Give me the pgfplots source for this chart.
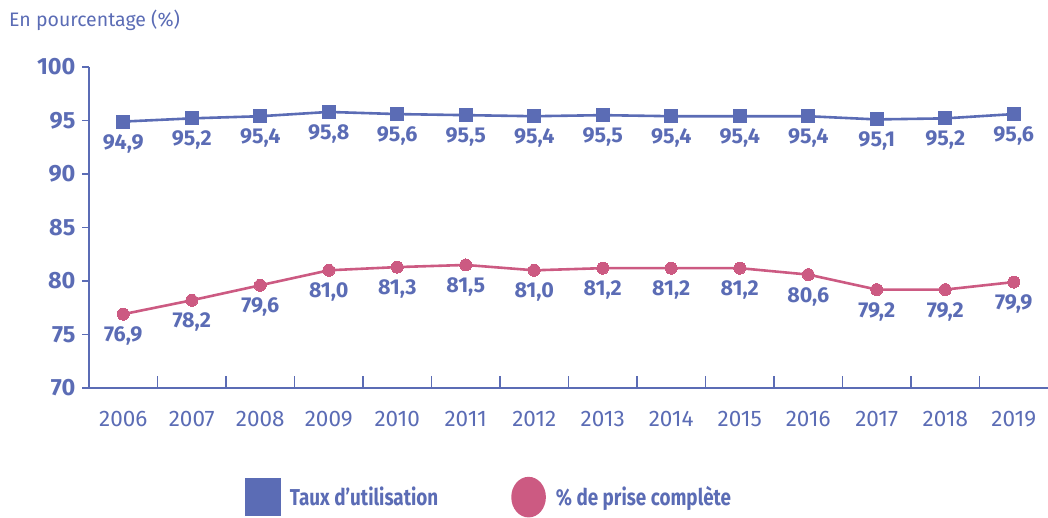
\documentclass[border=0pt]{standalone}
\usepackage{pgfplots}
\pgfplotsset{compat=1.18}
\usepackage{fontspec}
\setmainfont{Fira Sans}
\newfontfamily\condfont[FakeStretch=0.82]{Fira Sans}
\definecolor{cblue}{HTML}{5B6CB5}
\definecolor{cpink}{HTML}{CC5A82}
\begin{document}
\begin{tikzpicture}
\useasboundingbox (0pt,0pt) rectangle (1048pt,517pt);
\node[anchor=west,text=cblue,font=\fontsize{19.5}{22}\selectfont,inner sep=0] at (9pt,497pt) {En pourcentage (\%)};
\begin{axis}[
  at={(89pt,129pt)}, anchor=south west,
  width=959pt, height=321pt, scale only axis,
  xmin=-0.5, xmax=13.5, ymin=70, ymax=100,
  axis x line*=bottom, axis y line*=left,
  axis line style={cblue, line width=1.4pt},
  xtick={0,...,13},
  xticklabels={2006,2007,2008,2009,2010,2011,2012,2013,2014,2015,2016,2017,2018,2019},
  major x tick style={draw=none},
  minor xtick={0.5,1.5,...,12.5},
  minor tick length=12pt,
  minor x tick style={cblue, line width=1.4pt, yshift=12pt},
  ytick={70,75,...,100}, tick align=outside, major tick length=7pt,
  y tick style={cblue, line width=1.4pt},
  xticklabel style={text=cblue, font=\fontsize{22.5}{26}\selectfont, yshift=-13pt},
  yticklabel style={text=cblue, font=\fontsize{23.5}{27}\selectfont\bfseries, xshift=-3pt},
  /pgf/number format/assume math mode=true,
  clip=false,
  nodes near coords={\pgfplotspointmeta},
  point meta=explicit symbolic,
  every node near coord/.append style={text=cblue, font=\fontsize{21.5}{25}\selectfont\bfseries, anchor=center, yshift=-22pt},
  legend style={at={(0.1627,-0.34)}, anchor=west, draw=none, fill=none, inner sep=0pt,
     legend columns=2, /tikz/every even column/.append style={column sep=71pt},
     font=\condfont\fontsize{23}{26}\selectfont\bfseries, text=cblue},
  legend cell align=left,
]
\addplot[cblue, line width=2.6pt, mark=square*, mark size=6.5pt, mark options={line width=0pt},
  legend image code/.code={\fill[cblue] (0pt,-18pt) rectangle (33pt,18pt); \path (40pt,0pt);}]
  table[meta=l] {
x y l
0 94.9 {94,9}
1 95.2 {95,2}
2 95.4 {95,4}
3 95.8 {95,8}
4 95.6 {95,6}
5 95.5 {95,5}
6 95.4 {95,4}
7 95.5 {95,5}
8 95.4 {95,4}
9 95.4 {95,4}
10 95.4 {95,4}
11 95.1 {95,1}
12 95.2 {95,2}
13 95.6 {95,6}
};
\addlegendentry{Taux d’utilisation}
\addplot[cpink, line width=2.6pt, mark=*, mark size=6pt, mark options={line width=0pt},
  legend image code/.code={\fill[cpink] (16pt,0pt) ellipse (16pt and 19pt); \path (40pt,0pt);}]
  table[meta=l] {
x y l
0 76.9 {76,9}
1 78.2 {78,2}
2 79.6 {79,6}
3 81.0 {81,0}
4 81.3 {81,3}
5 81.5 {81,5}
6 81.0 {81,0}
7 81.2 {81,2}
8 81.2 {81,2}
9 81.2 {81,2}
10 80.6 {80,6}
11 79.2 {79,2}
12 79.2 {79,2}
13 79.9 {79,9}
};
\addlegendentry{\% de prise complète}
\end{axis}
\end{tikzpicture}
\end{document}
